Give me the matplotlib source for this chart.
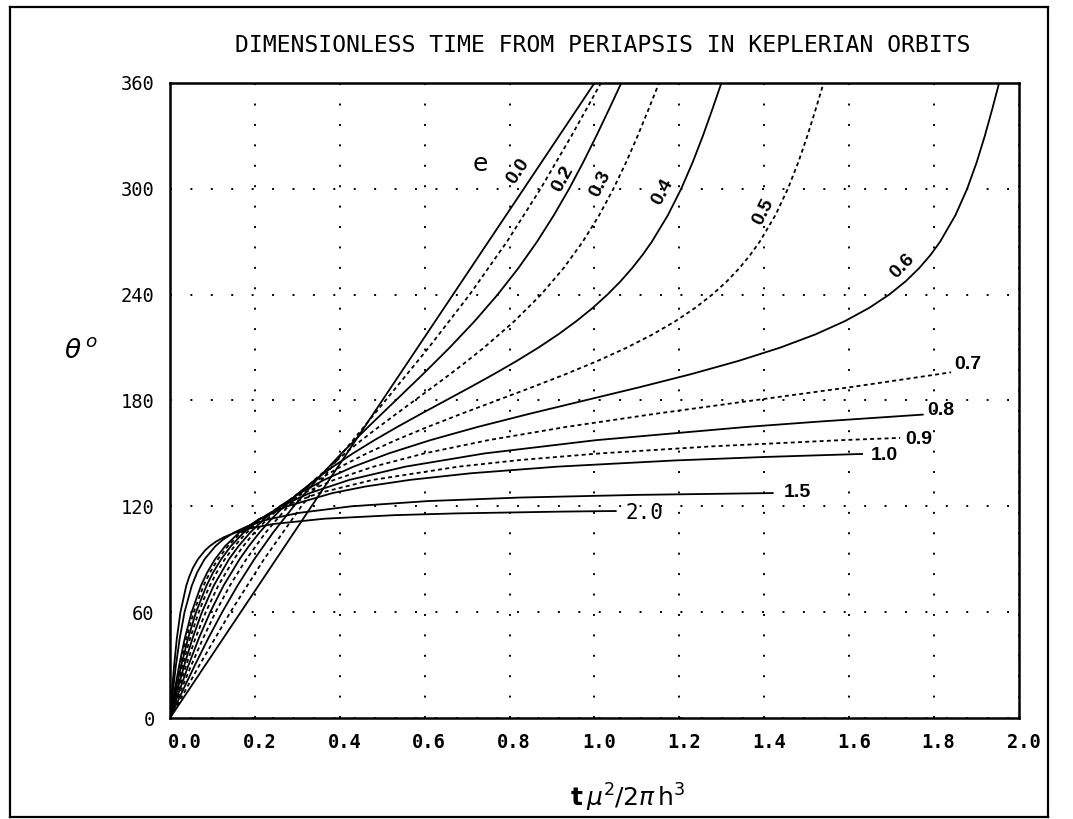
import matplotlib
matplotlib.use("Agg")
import matplotlib.pyplot as plt
from matplotlib.lines import Line2D
from matplotlib.transforms import ScaledTranslation

# ---------------- data ----------------
# theta in degrees (true anomaly), x = t*mu^2/(2*pi*h^3)
theta_e00 = [0, 180, 360]
x_e00 = [0.0, 0.5, 1.0]

theta_e01 = [0, 30, 60, 90, 120, 150, 180, 210, 240, 270, 300, 330, 360]
x_e01 = [0, 0.0694, 0.1423, 0.2215, 0.3094, 0.4057, 0.5076, 0.6095, 0.7058,
         0.7937, 0.8729, 0.9457, 1.0152]

theta_e02 = [0, 15, 30, 45, 60, 75, 90, 105, 120, 135, 150, 165, 180,
             195, 210, 225, 240, 255, 270, 285, 300, 315, 330, 345, 360]
x_e02 = [0, 0.0290, 0.0588, 0.0898, 0.1230, 0.1590, 0.1986, 0.2425, 0.2914,
         0.3454, 0.4042, 0.4668, 0.5316, 0.5963, 0.6589, 0.7178, 0.7718,
         0.8206, 0.8646, 0.9042, 0.9402, 0.9733, 1.0044, 1.0341, 1.0632]

theta_e03 = [0, 15, 30, 45, 60, 75, 90, 105, 120, 135, 150, 157.5, 165, 172.5,
             180, 187.5, 195, 202.5, 210, 225, 240, 255, 270, 285, 300, 315,
             330, 345, 360]
x_e03 = [0, 0.0248, 0.0504, 0.0776, 0.1074, 0.1410, 0.1797, 0.2249, 0.2781,
         0.3405, 0.4122, 0.4511, 0.4918, 0.5336, 0.5760, 0.6184, 0.6602,
         0.7008, 0.7398, 0.8115, 0.8739, 0.9271, 0.9723, 1.0110, 1.0445,
         1.0744, 1.1016, 1.1272, 1.1520]

theta_e04 = [0, 15, 30, 45, 60, 75, 90, 97.5, 105, 112.5, 120, 127.5, 135,
             142.5, 150, 157.5, 165, 172.5, 180, 187.5, 195, 202.5, 210, 217.5,
             225, 232.5, 240, 247.5, 255, 262.5, 270, 285, 300, 315, 330, 345, 360]
x_e04 = [0, 0.0214, 0.0437, 0.0677, 0.0947, 0.1261, 0.1639, 0.1859, 0.2104,
         0.2378, 0.2686, 0.3030, 0.3415, 0.3841, 0.4308, 0.4815, 0.5354,
         0.5918, 0.6495, 0.7071, 0.7635, 0.8174, 0.8681, 0.9148, 0.9574,
         0.9959, 1.0303, 1.0611, 1.0885, 1.1131, 1.1351, 1.1728, 1.2042,
         1.2312, 1.2553, 1.2775, 1.2989]

theta_e05 = [0, 15, 30, 45, 60, 75, 90, 97.5, 105, 112.5, 120, 127.5, 135,
             142.5, 150, 157.5, 165, 172.5, 180, 187.5, 195, 202.5, 210, 217.5,
             225, 232.5, 240, 247.5, 255, 262.5, 270, 285, 300, 315, 330, 345, 360]
x_e05 = [0, 0.0187, 0.0382, 0.0596, 0.0842, 0.1136, 0.1505, 0.1728, 0.1984,
         0.2280, 0.2624, 0.3024, 0.3488, 0.4023, 0.4633, 0.5317, 0.6068,
         0.6869, 0.7698, 0.8527, 0.9328, 1.0079, 1.0763, 1.1373, 1.1908,
         1.2372, 1.2772, 1.3116, 1.3412, 1.3668, 1.3891, 1.4260, 1.4554,
         1.4800, 1.5014, 1.5209, 1.5396]

theta_e06 = [0, 15, 30, 45, 60, 75, 90, 97.5, 105, 112.5, 120, 127.5, 135,
             142.5, 150, 157.5, 165, 172.5, 180, 187.5, 195, 202.5, 210, 217.5,
             225, 232.5, 240, 247.5, 255, 262.5, 270, 285, 300, 315, 330, 345, 360]
x_e06 = [0, 0.0164, 0.0337, 0.0529, 0.0753, 0.1030, 0.1390, 0.1617, 0.1884,
         0.2205, 0.2591, 0.3061, 0.3632, 0.4324, 0.5154, 0.6131, 0.7247,
         0.8475, 0.9766, 1.1057, 1.2285, 1.3401, 1.4377, 1.5207, 1.5899,
         1.6470, 1.6940, 1.7327, 1.7647, 1.7915, 1.8141, 1.8501, 1.8778,
         1.9002, 1.9194, 1.9367, 1.9531]

theta_e07 = [0, 15, 30, 45, 60, 67.5, 75, 82.5, 90, 97.5, 105, 112.5, 120,
             127.5, 135, 142.5, 150, 157.5, 165, 172.5, 180, 187.5, 195, 196.0]
x_e07 = [0, 0.0146, 0.0300, 0.0472, 0.0678, 0.0800, 0.0939, 0.1100, 0.1291,
         0.1521, 0.1801, 0.2149, 0.2587, 0.3146, 0.3867, 0.4798, 0.5992,
         0.7497, 0.9328, 1.1444, 1.3728, 1.6013, 1.8128, 1.84]

theta_e08 = [0, 15, 30, 45, 60, 75, 82.5, 90, 97.5, 105, 112.5, 120, 127.5,
             135, 142.5, 150, 157.5, 165, 168, 172]
x_e08 = [0, 0.0130, 0.0268, 0.0425, 0.0614, 0.0860, 0.1016, 0.1205, 0.1437,
         0.1731, 0.2110, 0.2611, 0.3290, 0.4228, 0.5546, 0.7413, 1.0032,
         1.3577, 1.5266, 1.7732]

theta_e09 = [0, 15, 30, 45, 60, 75, 82.5, 90, 97.5, 105, 112.5, 120, 127.5,
             135, 142.5, 146.25, 150, 154, 157.5, 158.8]
x_e09 = [0, 0.0117, 0.0241, 0.0384, 0.0559, 0.0791, 0.0942, 0.1129, 0.1365,
         0.1673, 0.2087, 0.2666, 0.3507, 0.4779, 0.6795, 0.8245, 1.0126,
         1.2770, 1.5798, 1.72]

theta_e10 = [0, 15, 30, 45, 60, 75, 82.5, 90, 97.5, 105, 112.5, 120, 127.5,
             131.25, 135, 138.75, 142.5, 146, 148, 149.7]
x_e10 = [0, 0.0105, 0.0218, 0.0348, 0.0510, 0.0730, 0.0877, 0.1061, 0.1301,
         0.1624, 0.2080, 0.2757, 0.3825, 0.4608, 0.5654, 0.7090, 0.9126,
         1.1885, 1.4026, 1.6303]

theta_e15 = [0, 15, 30, 45, 60, 75, 82.5, 90, 97.5, 101.25, 105, 108.75, 112.5,
             116.25, 120, 123, 125, 126.5, 127.52]
x_e15 = [0, 0.0068, 0.0141, 0.0229, 0.0343, 0.0514, 0.0640, 0.0814, 0.1073,
         0.1256, 0.1497, 0.1826, 0.2299, 0.3026, 0.4266, 0.6090, 0.8266,
         1.1037, 1.42]

theta_e20 = [0, 15, 30, 45, 60, 75, 80, 85, 90, 95, 97.5, 100, 102.5, 105,
             107.5, 110, 113, 115, 116, 117, 117.25, 117.35]
x_e20 = [0, 0.0047, 0.0099, 0.0161, 0.0247, 0.0384, 0.0452, 0.0539, 0.0658,
         0.0826, 0.0940, 0.1084, 0.1271, 0.1525, 0.1887, 0.2438, 0.3647,
         0.5291, 0.6748, 0.9198, 1.0094, 1.05]

x_ticks = [0.0, 0.2, 0.4, 0.6, 0.8, 1.0, 1.2, 1.4, 1.6, 1.8, 2.0]
x_tick_labels = ["0.0", "0.2", "0.4", "0.6", "0.8", "1.0", "1.2", "1.4", "1.6", "1.8", "2.0"]
y_ticks = [0, 60, 120, 180, 240, 300, 360]
y_tick_labels = ["0", "60", "120", "180", "240", "300", "360"]

title = "DIMENSIONLESS TIME FROM PERIAPSIS IN KEPLERIAN ORBITS"

# ---------------- figure ----------------
fig = plt.figure(figsize=(10.73, 8.19), dpi=100)
fig.patch.set_facecolor("white")

# outer frame
frame_kw = dict(color="black", lw=1.6, transform=fig.transFigure)
fx0, fx1, fy0, fy1 = 0.0093, 0.9767, 0.0020, 0.9915
fig.add_artist(Line2D([fx0, fx1], [fy1, fy1], **frame_kw))
fig.add_artist(Line2D([fx0, fx0], [fy0, fy1], **frame_kw))
fig.add_artist(Line2D([fx1, fx1], [fy0, fy1], **frame_kw))
fig.add_artist(Line2D([fx0, fx1], [fy0, fy0], **frame_kw))

ax = fig.add_axes([0.1584, 0.1233, 0.7913, 0.7754])
ax.set_xlim(0, 2.0)
ax.set_ylim(0, 360)

solid = dict(color="black", lw=1.3, solid_joinstyle="round")
dashed = dict(color="black", lw=1.3, linestyle=(0, (2.2, 1.8)))

curves = [
    (x_e00, theta_e00, solid),
    (x_e01, theta_e01, dashed),
    (x_e02, theta_e02, solid),
    (x_e03, theta_e03, dashed),
    (x_e04, theta_e04, solid),
    (x_e05, theta_e05, dashed),
    (x_e06, theta_e06, solid),
    (x_e07, theta_e07, dashed),
    (x_e08, theta_e08, solid),
    (x_e09, theta_e09, dashed),
    (x_e10, theta_e10, solid),
    (x_e15, theta_e15, solid),
    (x_e20, theta_e20, solid),
]
for xs, ts, st in curves:
    ax.plot(xs, ts, **st)

# grid
ax.set_xticks(x_ticks)
ax.set_yticks(y_ticks)
ax.grid(True, color="black", lw=1.4, linestyle=(0, (1, 9.5)))
ax.set_axisbelow(True)
ax.set_xticklabels(x_tick_labels, family="DejaVu Sans Mono", fontsize=13.5,
                   fontweight="bold")
ax.set_yticklabels(y_tick_labels, family="DejaVu Sans Mono", fontsize=13.5)
ax.tick_params(axis="both", length=0)
ax.tick_params(axis="x", pad=11)
ax.tick_params(axis="y", pad=11)
for i, lab in enumerate(ax.get_xticklabels()):
    dx = 0.15 if i == 0 else 0.045
    lab.set_transform(lab.get_transform() + ScaledTranslation(dx, 0, fig.dpi_scale_trans))
for s in ax.spines.values():
    s.set_linewidth(1.8)

# curve labels
lab_font = dict(family="Liberation Sans", fontsize=14, fontweight="bold",
                color="black", ha="center", va="center", rotation_mode="anchor")
ax.text(0.731, 314, "e", fontsize=18, family="DejaVu Sans",
        ha="center", va="center")
rot_labels = [
    ("0.0", 0.821, 310, 56),
    ("0.2", 0.925, 305.5, 61),
    ("0.3", 1.014, 302.6, 63),
    ("0.4", 1.160, 298, 62),
    ("0.5", 1.399, 287, 63),
    ("0.6", 1.726, 256, 46),
]
for s, x, y, r in rot_labels:
    ax.text(x, y, s, rotation=r, **lab_font)
flat_labels = [
    ("0.7", 1.880, 200.4),
    ("0.8", 1.816, 174.3),
    ("0.9", 1.763, 158.1),
    ("1.0", 1.682, 148.8),
    ("1.5", 1.479, 127.8),
]
for s, x, y in flat_labels:
    ax.text(x, y, s, **lab_font)
ax.text(1.118, 116.2, "2.0", family="DejaVu Sans Mono", fontsize=15,
        ha="center", va="center")

# title and axis labels
fig.text(0.562, 0.945, title, family="DejaVu Sans Mono", fontsize=16.7,
         ha="center", va="center")
fig.text(0.0755, 0.5714, r"$\theta^{\,o}$", fontsize=19, ha="center", va="center")
fig.text(0.585, 0.0256, r"$\mathbf{t}\,\mu^{2}/2\pi\,\mathrm{h}^{3}$",
         fontsize=18, ha="center", va="center")

fig.savefig("out.png", dpi=100)
